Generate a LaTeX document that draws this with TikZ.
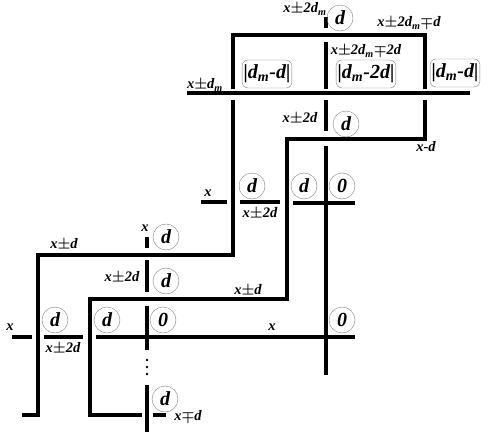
\documentclass[tikz,border=0pt]{standalone}
\usepackage{amsmath}
\usepackage{bm}
\usepackage{fontspec}
\setmainfont{Liberation Serif}
\usetikzlibrary{calc}

\newcommand{\pmsign}{$\bm{\pm}$}
\newcommand{\mpsign}{$\bm{\mp}$}
\newcommand{\subm}{\textsubscript{m}}
\newcommand{\vbar}{|}

\tikzset{
  wire/.style={line width=4pt},
  circ/.style={circle,draw=gray,thin,minimum size=26pt,inner sep=0pt,font=\fontsize{20}{22}\selectfont\bfseries\itshape},
  absbox/.style={rounded corners=6pt,draw=gray,thin,minimum height=28pt,inner sep=1.5pt,font=\fontsize{20}{22}\selectfont\bfseries\itshape},
  lab/.style={inner sep=0pt,font=\fontsize{14.5}{16}\selectfont\bfseries\itshape},
}

\begin{document}
\begin{tikzpicture}[x=1pt,y=-1pt]
\useasboundingbox (0,0) rectangle (492,436);

% corner points of the wires
\coordinate (f1) at (233,89);
\coordinate (f2) at (233,35);
\coordinate (f3) at (425,35);
\coordinate (f4) at (425,89);
\coordinate (m1) at (326,42);
\coordinate (m2) at (326,89);
\coordinate (t1) at (326,17);
\coordinate (t2) at (326,28);
\coordinate (h1) at (187,93);
\coordinate (h2) at (470,93);

\coordinate (a1) at (233,100);
\coordinate (a2) at (233,255);
\coordinate (a3) at (38,255);
\coordinate (a4) at (38,415);
\coordinate (a5) at (22,415);

\coordinate (b1) at (425,100);
\coordinate (b2) at (425,139);
\coordinate (b3) at (287,139);
\coordinate (b4) at (287,299);
\coordinate (b5) at (90,299);
\coordinate (b6) at (90,415);
\coordinate (b7) at (142,415);

\coordinate (c1) at (326,100);
\coordinate (c2) at (326,131);
\coordinate (c3) at (326,146);
\coordinate (c4) at (326,375);
\coordinate (c5) at (293,203);
\coordinate (c6) at (355,203);

\coordinate (s1) at (201,202);
\coordinate (s2) at (227,202);
\coordinate (s3) at (240,202);
\coordinate (s4) at (280,202);

\coordinate (k1) at (147,237);
\coordinate (k2) at (147,248);
\coordinate (k3) at (147,260);
\coordinate (k4) at (147,292);
\coordinate (k5) at (147,306);
\coordinate (k6) at (147,350);
\coordinate (k7) at (147,385);
\coordinate (k8) at (147,432);
\coordinate (k9) at (153,415);
\coordinate (k10) at (166,415);

\coordinate (g1) at (96,337);
\coordinate (g2) at (355,337);
\coordinate (g3) at (12,337);
\coordinate (g4) at (32,337);
\coordinate (g5) at (44,337);
\coordinate (g6) at (83,337);

% wires
\draw[wire] (f1) -- (f2) -- (f3) -- (f4);
\draw[wire] (m1) -- (m2);
\draw[wire] (t1) -- (t2);
\draw[wire] (h1) -- (h2);
\draw[wire] (a1) -- (a2) -- (a3) -- (a4) -- (a5);
\draw[wire] (b1) -- (b2) -- (b3) -- (b4) -- (b5) -- (b6) -- (b7);
\draw[wire] (c1) -- (c2);
\draw[wire] (c3) -- (c4);
\draw[wire] (c5) -- (c6);
\draw[wire] (s1) -- (s2);
\draw[wire] (s3) -- (s4);
\draw[wire] (k1) -- (k2);
\draw[wire] (k3) -- (k4);
\draw[wire] (k5) -- (k6);
\draw[wire] (k7) -- (k8);
\draw[wire] (k9) -- (k10);
\draw[wire] (g1) -- (g2);
\draw[wire] (g3) -- (g4);
\draw[wire] (g5) -- (g6);

% dots between the two lower ticks
\foreach \y in {360,367,374}
  \fill (147,\y) circle (1.3pt);

% circled values
\node[circ] (d1) at (340,18) {d};
\node[circ] (d2) at (346,124) {d};
\node[circ] (d3) at (252,186) {d};
\node[circ] (d4) at (304,186) {d};
\node[circ] (z1) at (342,186) {0};
\node[circ] (d5) at (166,237) {d};
\node[circ] (d6) at (166,281) {d};
\node[circ] (d7) at (55,320) {d};
\node[circ] (d8) at (107,320) {d};
\node[circ] (z2) at (163,320) {0};
\node[circ] (z3) at (342,320) {0};
\node[circ] (d9) at (165,399) {d};

% boxed differences
\node[absbox] (e1) at (267,74) {\vbar d\subm-d\vbar};
\node[absbox] (e2) at (366,74) {\vbar d\subm-2d\vbar};
\node[absbox] (e3) at (455,73) {\vbar d\subm-d\vbar};

% labels
\node[lab] (l1) at (305,9) {x\pmsign 2d\subm};
\node[lab] (l2) at (409,23) {x\pmsign 2d\subm\mpsign d};
\node[lab] (l3) at (366,51) {x\pmsign 2d\subm\mpsign 2d};
\node[lab] (l4) at (205,85) {x\pmsign d\subm};
\node[lab] (l5) at (300,118) {x\pmsign 2d};
\node[lab] (l6) at (426,147) {x-d};
\node[lab] (l7) at (208,193) {x};
\node[lab] (l8) at (260,213) {x\pmsign 2d};
\node[lab] (l9) at (145,228) {x};
\node[lab] (l10) at (64,244) {x\pmsign d};
\node[lab] (l11) at (122,277) {x\pmsign 2d};
\node[lab] (l12) at (248,290) {x\pmsign d};
\node[lab] (l13) at (10,327) {x};
\node[lab] (l14) at (63,348) {x\pmsign 2d};
\node[lab] (l15) at (272,327) {x};
\node[lab] (l16) at (188,416) {x\mpsign d};
\end{tikzpicture}
\end{document}
